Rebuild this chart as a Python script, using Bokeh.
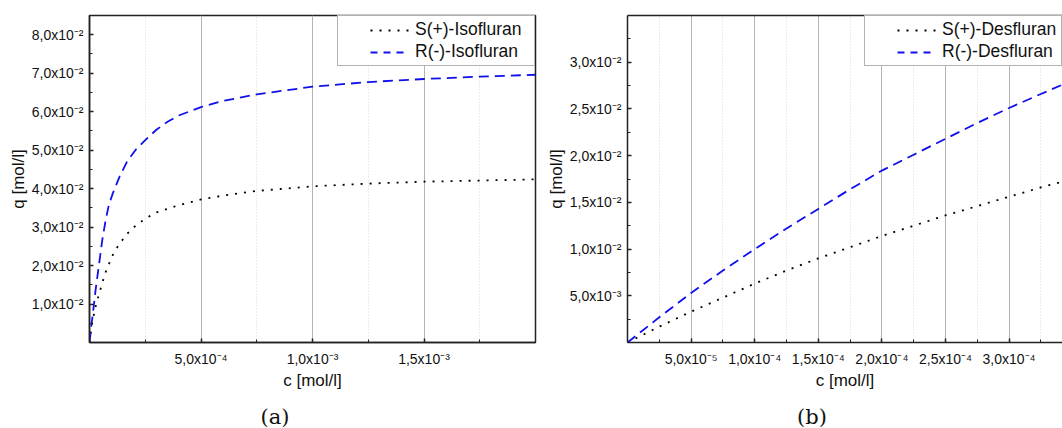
from bokeh.plotting import figure
from bokeh.models import (FixedTicker, CustomJSTickFormatter, Legend, LegendItem,
                          Range1d, Div, LinearAxis)
from bokeh.layouts import row, column
from bokeh.embed import file_html
from bokeh.resources import INLINE

NAN = float("nan")

# ---------------- data ----------------
# (a) Isofluran
iso_s_c = [0, 3e-6, 1.2e-5, 2e-5, 3e-5, 4.5e-5, 6e-5, 7.5e-5, 9e-5, 1.1e-4, 1.37e-4,
           1.66e-4, 2e-4, 2.5e-4, 3e-4, 4e-4, 5e-4, 6e-4, 7.5e-4, 1e-3, 1.25e-3,
           1.5e-3, 1.75e-3, 2e-3]
iso_s_q = [0, 0.0015, 0.0050, 0.0074, 0.0100, 0.0130, 0.0160, 0.0187, 0.0208, 0.0235,
           0.0258, 0.0281, 0.0300, 0.0322, 0.0338, 0.0357, 0.0372, 0.0382, 0.0394,
           0.0406, 0.0413, 0.0418, 0.0421, 0.0424]
iso_r_c = [0, 3e-6, 9e-6, 1.5e-5, 2e-5, 2.7e-5, 3.5e-5, 4.5e-5, 5.7e-5, 7.2e-5, 8.7e-5,
           1.04e-4, 1.34e-4, 1.7e-4, 2.1e-4, 2.5e-4, 3e-4, 3.5e-4, 4e-4, 5e-4, 6e-4,
           7.5e-4, 1e-3, 1.25e-3, 1.5e-3, 1.75e-3, 2e-3]
iso_r_q = [0, 0.0015, 0.0048, 0.0074, 0.0100, 0.0135, 0.0170, 0.0213, 0.0265, 0.0317,
           0.0358, 0.0387, 0.0430, 0.0472, 0.0503, 0.0526, 0.0553, 0.0574, 0.0590,
           0.0612, 0.0628, 0.0645, 0.0665, 0.0677, 0.0685, 0.0691, 0.0696]

# (b) Desfluran
des_c = [0, 2.5e-5, 5e-5, 7.5e-5, 1e-4, 1.25e-4, 1.5e-4, 1.75e-4, 2e-4, 2.25e-4,
         2.5e-4, 2.75e-4, 3e-4, 3.25e-4, 3.42e-4]
des_s_q = [0, 0.0017, 0.0033, 0.0048, 0.0063, 0.0077, 0.0090, 0.0102, 0.0114, 0.0125,
           0.0136, 0.0146, 0.0156, 0.0166, 0.0172]
des_r_q = [0, 0.0027, 0.0053, 0.0077, 0.0100, 0.0122, 0.0143, 0.0164, 0.0184, 0.0201,
           0.0218, 0.0235, 0.0251, 0.0266, 0.0276]

# ticks
a_xticks = [5e-4, 1e-3, 1.5e-3]
a_xlabels = ["5,0x10⁻⁴", "1,0x10⁻³", "1,5x10⁻³"]
a_xminor = [2.5e-4, 7.5e-4, 1.25e-3, 1.75e-3]
a_yticks = [0.01, 0.02, 0.03, 0.04, 0.05, 0.06, 0.07, 0.08]
a_ylabels = ["1,0x10⁻²", "2,0x10⁻²", "3,0x10⁻²", "4,0x10⁻²", "5,0x10⁻²",
             "6,0x10⁻²", "7,0x10⁻²", "8,0x10⁻²"]
a_yminor = [0.005, 0.015, 0.025, 0.035, 0.045, 0.055, 0.065, 0.075]

b_xticks = [5e-5, 1e-4, 1.5e-4, 2e-4, 2.5e-4, 3e-4]
b_xlabels = ["5,0x10⁻⁵", "1,0x10⁻⁴", "1,5x10⁻⁴", "2,0x10⁻⁴", "2,5x10⁻⁴", "3,0x10⁻⁴"]
b_xminor = [2.5e-5, 7.5e-5, 1.25e-4, 1.75e-4, 2.25e-4, 2.75e-4, 3.25e-4]
b_yticks = [0.005, 0.010, 0.015, 0.020, 0.025, 0.030]
b_ylabels = ["5,0x10⁻³", "1,0x10⁻²", "1,5x10⁻²", "2,0x10⁻²", "2,5x10⁻²", "3,0x10⁻²"]
b_yminor = [0.0025, 0.0075, 0.0125, 0.0175, 0.0225, 0.0275, 0.0325]

SANS = "Liberation Sans"
JS = """
let b = 0;
for (let i = 0; i < vals.length; i++) {
    if (Math.abs(vals[i] - tick) < Math.abs(vals[b] - tick)) b = i;
}
return labs[b];
"""

FIG_H = 404
CAP_H = 24
DARK = "#222222"


def fmt(vals, labs):
    return CustomJSTickFormatter(args=dict(vals=vals, labs=labs), code=JS)


def make(width, xr, yr, mb_left, mb_right, xt, xl, xm, yt, yl, ym,
         s_c, s_q, r_c, r_q, s_name, r_name, open_right=False):
    p = figure(width=width, height=FIG_H, output_backend="svg", toolbar_location=None,
               x_range=Range1d(*xr), y_range=Range1d(*yr),
               min_border_left=mb_left, min_border_right=mb_right,
               min_border_top=15, min_border_bottom=FIG_H - 342)
    p.background_fill_color = "white"
    p.border_fill_color = "white"

    bottom = p.below[0]
    left = p.left[0]
    bottom.ticker = FixedTicker(ticks=xt, minor_ticks=xm)
    left.ticker = FixedTicker(ticks=yt, minor_ticks=ym)
    bottom.formatter = fmt(xt, xl)
    left.formatter = fmt(yt, yl)
    for ax in (bottom, left):
        ax.axis_line_color = DARK
        ax.axis_line_width = 1.5
        ax.major_tick_in = 4
        ax.major_tick_out = 0
        ax.minor_tick_in = 3
        ax.minor_tick_out = 0
        ax.major_tick_line_color = DARK
        ax.major_tick_line_width = 1.5
        ax.minor_tick_line_color = DARK
        ax.minor_tick_line_width = 1
        ax.major_label_text_font = SANS
        ax.major_label_text_font_size = "14px"
        ax.major_label_text_color = "#111111"
        ax.axis_label_text_font = SANS
        ax.axis_label_text_font_size = "17px"
        ax.axis_label_text_font_style = "normal"
        ax.axis_label_text_color = "#111111"
    left.major_label_standoff = 6
    left.axis_label_standoff = 1
    bottom.major_label_standoff = 8
    bottom.axis_label_standoff = 1
    bottom.axis_label = "c [mol/l]"
    left.axis_label = "q [mol/l]"

    if open_right:
        # plot is cut at the right edge: only a top border line, no right one
        p.outline_line_color = None
        top = LinearAxis(ticker=FixedTicker(ticks=[], minor_ticks=[]),
                         axis_line_color=DARK, axis_line_width=1.5,
                         major_tick_line_color=None, minor_tick_line_color=None,
                         major_label_standoff=0, major_tick_in=0, major_tick_out=0,
                         minor_tick_in=0, minor_tick_out=0)
        p.add_layout(top, "above")
    else:
        p.outline_line_color = DARK
        p.outline_line_width = 1.5

    p.ygrid.grid_line_color = None
    p.xgrid.grid_line_color = "#b4b4b4"
    p.xgrid.grid_line_width = 1
    p.xgrid.minor_grid_line_color = "#d8d8d8"
    p.xgrid.minor_grid_line_dash = "1 2"

    p.line(s_c, s_q, line_color="black", line_width=1.8, line_dash="2 7")
    p.line(r_c, r_q, line_color="#1010ee", line_width=1.8, line_dash="10 6")

    # legend proxies (NaN data: nothing drawn in the plot, only the legend glyph)
    ls = p.line([NAN], [NAN], line_color="black", line_width=1.8,
                line_dash="2 7 2 7 2 7 2 7 2 36", line_dash_offset=45)
    lr = p.line([NAN], [NAN], line_color="#1010ee", line_width=1.8,
                line_dash="7 6 7 6 7 35", line_dash_offset=39)
    leg = Legend(items=[LegendItem(label=s_name, renderers=[ls]),
                        LegendItem(label=r_name, renderers=[lr])],
                 location="top_right", margin=0, padding=3, spacing=1,
                 glyph_width=70, glyph_height=20, label_height=20,
                 label_width=116, label_standoff=4,
                 label_text_font=SANS, label_text_font_size="17.5px",
                 label_text_color="#111111",
                 border_line_color="#666666", border_line_width=1,
                 background_fill_color="white", background_fill_alpha=1)
    p.add_layout(leg)
    return p


def caption(text, width, pad_left):
    return Div(text=text, width=width, height=CAP_H, margin=0,
               styles={"font-family": "DejaVu Serif", "font-size": "21px",
                       "color": "#111111", "text-align": "center",
                       "line-height": "24px", "padding-top": "1px",
                       "padding-left": f"{pad_left}px", "box-sizing": "border-box"})


p1 = make(537, (0, 2.0e-3), (0, 0.085), 89, 2,
          a_xticks, a_xlabels, a_xminor, a_yticks, a_ylabels, a_yminor,
          iso_s_c, iso_s_q, iso_r_c, iso_r_q,
          "S(+)-Isofluran", "R(-)-Isofluran")
p2 = make(525, (0, 3.42e-4), (0, 0.035), 90, 0,
          b_xticks, b_xlabels, b_xminor, b_yticks, b_ylabels, b_yminor,
          des_c, des_s_q, des_c, des_r_q,
          "S(+)-Desfluran", "R(-)-Desfluran", open_right=True)

layout = row(column(p1, caption("(a)", 537, 13)),
             column(p2, caption("(b)", 525, 25)))
open("out.html", "w").write(file_html(layout, INLINE))
